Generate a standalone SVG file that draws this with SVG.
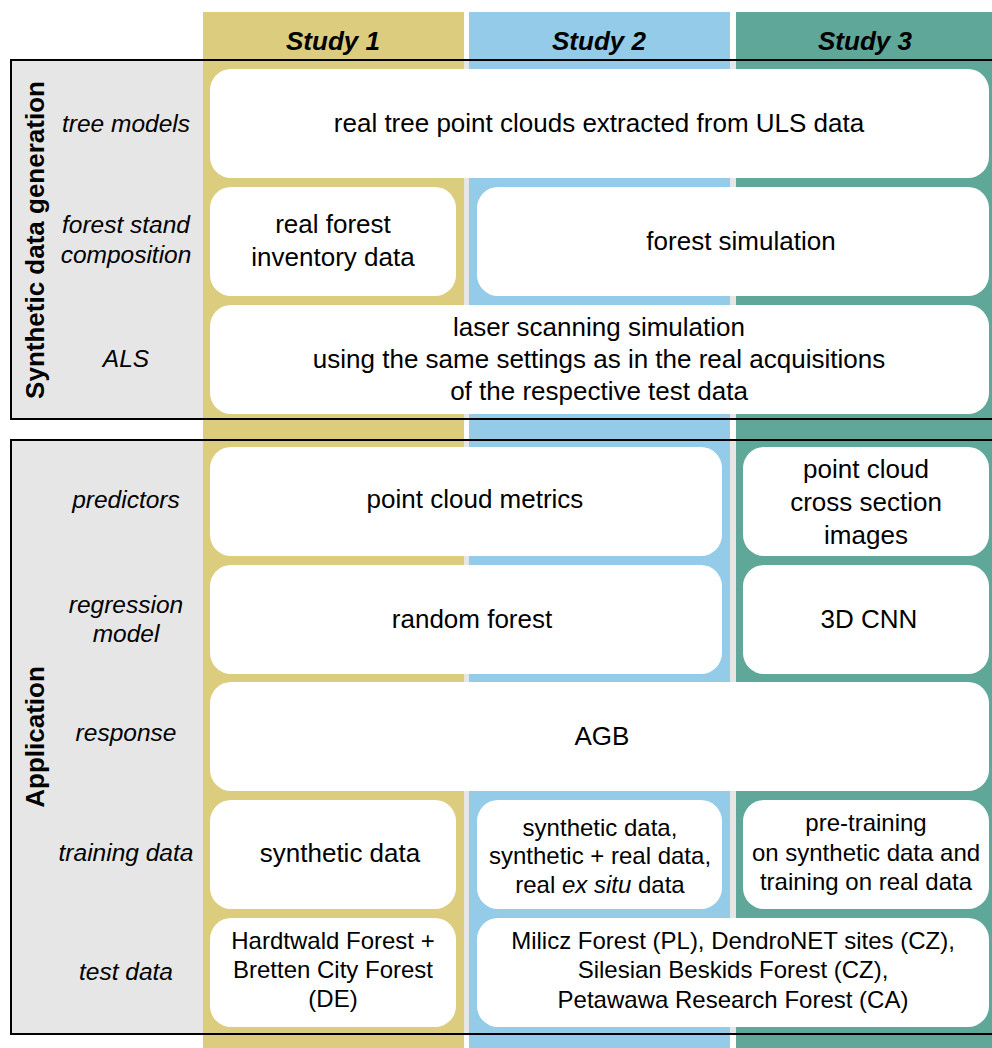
<svg xmlns="http://www.w3.org/2000/svg" width="992" height="1048" viewBox="0 0 992 1048">
<style>
text{font-family:"Liberation Sans",Arial,sans-serif;fill:#000;text-anchor:middle}
.hd{font-size:26px;font-weight:bold;font-style:italic}
.lb{font-size:24.5px;font-style:italic}
.tx{font-size:26px}
.sm{font-size:24px}
.vt{font-size:26px;font-weight:bold}
.box{fill:#fff}
.frame{fill:none;stroke:#000;stroke-width:2}
</style>
<rect width="992" height="1048" fill="#fff"/>
<g id="backgrounds">
<rect x="11" y="60" width="990" height="359" fill="#e6e6e6"/>
<rect x="11" y="440" width="990" height="594" fill="#e6e6e6"/>
</g>
<g id="columns">
<rect x="203" y="12" width="261" height="1036" fill="#dccc7d"/>
<rect x="469" y="12" width="261" height="1036" fill="#93cbe8"/>
<rect x="736" y="12" width="256" height="1036" fill="#5fa899"/>
<text class="hd" x="333" y="50">Study 1</text>
<text class="hd" x="599" y="50">Study 2</text>
<text class="hd" x="865" y="50">Study 3</text>
</g>
<g id="frames">
<rect class="frame" x="11" y="60" width="990" height="359"/>
<rect class="frame" x="11" y="440" width="990" height="594"/>
<text class="vt" transform="translate(44 240) rotate(-90)">Synthetic data generation</text>
<text class="vt" transform="translate(44 737) rotate(-90)">Application</text>
</g>
<g id="row-labels">
<text class="lb" x="126" y="132">tree models</text>
<text class="lb" x="126" y="233">forest stand</text>
<text class="lb" x="126" y="263">composition</text>
<text class="lb" x="126" y="367">ALS</text>
<text class="lb" x="126" y="508">predictors</text>
<text class="lb" x="126" y="613">regression</text>
<text class="lb" x="126" y="642">model</text>
<text class="lb" x="126" y="741">response</text>
<text class="lb" x="126" y="861">training data</text>
<text class="lb" x="126" y="980">test data</text>
</g>
<g id="tree-models">
<rect class="box" x="210" y="69" width="779" height="109" rx="21"/>
<text class="tx" x="599" y="132">real tree point clouds extracted from ULS data</text>
</g>
<g id="inventory">
<rect class="box" x="210" y="187" width="246" height="109" rx="21"/>
<text class="tx" x="333" y="233">real forest</text>
<text class="tx" x="333" y="266">inventory data</text>
</g>
<g id="forest-simulation">
<rect class="box" x="477" y="187" width="512" height="109" rx="21"/>
<text class="tx" x="741" y="250">forest simulation</text>
</g>
<g id="als">
<rect class="box" x="210" y="305" width="779" height="109" rx="21"/>
<text class="tx" x="599" y="336">laser scanning simulation</text>
<text class="tx" x="599" y="368">using the same settings as in the real acquisitions</text>
<text class="tx" x="599" y="400">of the respective test data</text>
</g>
<g id="metrics">
<rect class="box" x="210" y="447" width="512" height="109" rx="21"/>
<text class="tx" x="475" y="508">point cloud metrics</text>
</g>
<g id="images">
<rect class="box" x="743" y="447" width="246" height="109" rx="21"/>
<text class="tx" x="866" y="478">point cloud</text>
<text class="tx" x="866" y="511">cross section</text>
<text class="tx" x="866" y="544">images</text>
</g>
<g id="random-forest">
<rect class="box" x="210" y="565" width="512" height="109" rx="21"/>
<text class="tx" x="472" y="628">random forest</text>
</g>
<g id="cnn">
<rect class="box" x="743" y="565" width="246" height="109" rx="21"/>
<text class="tx" x="869" y="628">3D CNN</text>
</g>
<g id="agb">
<rect class="box" x="210" y="682" width="779" height="109" rx="21"/>
<text class="tx" x="602" y="745">AGB</text>
</g>
<g id="train-1">
<rect class="box" x="210" y="800" width="246" height="109" rx="21"/>
<text class="tx" x="340" y="862">synthetic data</text>
</g>
<g id="train-2">
<rect class="box" x="477" y="800" width="245" height="109" rx="21"/>
<text class="sm" x="600" y="836">synthetic data,</text>
<text class="sm" x="600" y="864">synthetic + real data,</text>
<text class="sm" x="600" y="893">real <tspan font-style="italic">ex situ</tspan> data</text>
</g>
<g id="train-3">
<rect class="box" x="743" y="800" width="246" height="109" rx="21"/>
<text class="sm" x="866" y="831">pre-training</text>
<text class="sm" x="866" y="861">on synthetic data and</text>
<text class="sm" x="866" y="890">training on real data</text>
</g>
<g id="test-1">
<rect class="box" x="210" y="918" width="246" height="109" rx="21"/>
<text class="sm" x="333" y="949">Hardtwald Forest +</text>
<text class="sm" x="333" y="978">Bretten City Forest</text>
<text class="sm" x="333" y="1007">(DE)</text>
</g>
<g id="test-2">
<rect class="box" x="477" y="918" width="512" height="109" rx="21"/>
<text class="sm" x="733" y="949">Milicz Forest (PL), DendroNET sites (CZ),</text>
<text class="sm" x="733" y="978">Silesian Beskids Forest (CZ),</text>
<text class="sm" x="733" y="1008">Petawawa Research Forest (CA)</text>
</g>
<g id="connectors"></g>
</svg>
